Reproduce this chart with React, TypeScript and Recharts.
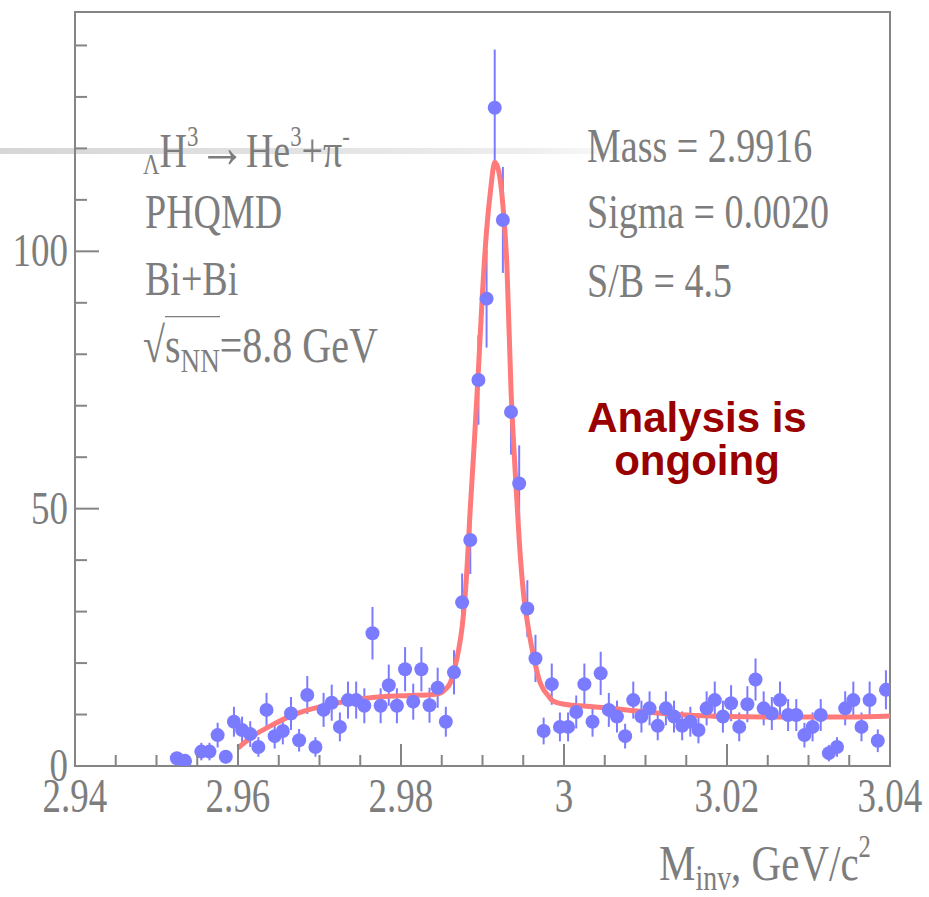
import React from "react";
import {
  ComposedChart,
  Scatter,
  Line,
  XAxis,
  YAxis,
  ErrorBar,
  ReferenceArea,
} from "recharts";

// invariant mass bins (GeV/c^2), counts and their errors
const binCenters = [
  2.9525, 2.9535, 2.9555, 2.9565, 2.9575, 2.9585, 2.9595, 2.9605, 2.9615, 2.9625,
  2.9635, 2.9645, 2.9655, 2.9665, 2.9675, 2.9685, 2.9695, 2.9705, 2.9715, 2.9725,
  2.9735, 2.9745, 2.9755, 2.9765, 2.9775, 2.9785, 2.9795, 2.9805, 2.9815, 2.9825,
  2.9835, 2.9845, 2.9855, 2.9865, 2.9875, 2.9885, 2.9895, 2.9905, 2.9915, 2.9925,
  2.9935, 2.9945, 2.9955, 2.9965, 2.9975, 2.9985, 2.9995, 3.0005, 3.0015, 3.0025,
  3.0035, 3.0045, 3.0055, 3.0065, 3.0075, 3.0085, 3.0095, 3.0105, 3.0115, 3.0125,
  3.0135, 3.0145, 3.0155, 3.0165, 3.0175, 3.0185, 3.0195, 3.0205, 3.0215, 3.0225,
  3.0235, 3.0245, 3.0255, 3.0265, 3.0275, 3.0285, 3.0295, 3.0305, 3.0315, 3.0325,
  3.0335, 3.0345, 3.0355, 3.0365, 3.0375, 3.0385, 3.0395,
];
const counts = [
  1.5, 1.0, 2.8, 2.8, 6.0, 1.8, 8.6, 7.0, 6.2, 3.7,
  10.9, 5.8, 6.8, 10.2, 5.0, 13.8, 3.7, 10.9, 12.3, 7.6,
  12.8, 12.8, 11.7, 25.8, 11.7, 15.7, 11.7, 18.8, 12.5, 18.8,
  11.8, 15.2, 8.6, 18.2, 31.8, 43.9, 75.0, 90.8, 127.9, 106.1,
  68.8, 54.9, 30.6, 20.9, 6.8, 15.9, 7.6, 7.6, 10.5, 15.9,
  8.6, 18.0, 10.9, 9.6, 5.8, 12.8, 9.6, 11.2, 7.8, 11.2,
  9.6, 7.8, 8.6, 7.0, 11.2, 12.8, 9.6, 12.2, 7.6, 12.0,
  16.8, 11.2, 10.2, 12.8, 9.9, 9.9, 6.0, 7.6, 9.9, 2.5,
  3.7, 11.2, 12.8, 7.6, 12.8, 4.9, 14.8,
];
const countErrors = [
  1.2, 1.0, 1.7, 1.7, 2.4, 1.3, 2.9, 2.6, 2.5, 1.9,
  3.3, 2.4, 2.6, 3.2, 2.2, 3.7, 1.9, 3.3, 3.5, 2.8,
  3.6, 3.6, 3.4, 5.1, 3.4, 4.0, 3.4, 4.3, 3.5, 4.3,
  3.4, 3.9, 2.9, 4.3, 5.6, 6.6, 8.7, 9.5, 11.3, 10.3,
  8.3, 7.4, 5.5, 4.6, 2.6, 4.0, 2.8, 2.8, 3.2, 4.0,
  2.9, 4.2, 3.3, 3.1, 2.4, 3.6, 3.1, 3.3, 2.8, 3.3,
  3.1, 2.8, 2.9, 2.6, 3.3, 3.6, 3.1, 3.5, 2.8, 3.5,
  4.1, 3.3, 3.2, 3.6, 3.1, 3.1, 2.4, 2.8, 3.1, 1.6,
  1.9, 3.3, 3.6, 2.8, 3.6, 2.2, 3.8,
];

// fit curve
const fitMass = [
  2.96, 2.962, 2.964, 2.966, 2.968, 2.97, 2.972, 2.975, 2.978, 2.981,
  2.984, 2.985, 2.9855, 2.986, 2.9865, 2.987, 2.9875, 2.988, 2.9885, 2.989,
  2.9895, 2.99, 2.9905, 2.991, 2.9915, 2.992, 2.9925, 2.993, 2.9935, 2.994,
  2.9945, 2.995, 2.9955, 2.996, 2.9965, 2.997, 2.9975, 2.998, 2.9985, 2.999,
  3.0, 3.002, 3.005, 3.01, 3.015, 3.02, 3.025, 3.03, 3.035, 3.04,
];
const fitValues = [
  3.5, 6.0, 7.8, 9.4, 10.6, 11.5, 12.2, 13.0, 13.5, 13.7,
  13.9, 14.3, 15.0, 16.0, 18.5, 22, 27, 36, 50, 63,
  77, 92, 104, 112, 117.3, 115.5, 109, 97, 73, 57.5,
  44, 34, 28, 23.4, 19.6, 16.5, 14.8, 13.8, 12.8, 12.4,
  12.0, 11.7, 11.3, 10.5, 9.9, 9.6, 9.5, 9.5, 9.5, 9.7,
];

const xTicks = [
  2.94, 2.945, 2.95, 2.955, 2.96, 2.965, 2.97, 2.975, 2.98, 2.985, 2.99,
  2.995, 3.0, 3.005, 3.01, 3.015, 3.02, 3.025, 3.03, 3.035, 3.04,
];
const xMajor = [2.94, 2.96, 2.98, 3.0, 3.02, 3.04];
const xMajorLabels = ["2.94", "2.96", "2.98", "3", "3.02", "3.04"];
const yTicks = [0, 10, 20, 30, 40, 50, 60, 70, 80, 90, 100, 110, 120, 130, 140];
const yMajor = [0, 50, 100];
const yMajorLabels = ["0", "50", "100"];

const AXIS = "#858585";
const TEXT = "#7d7d7d";
const MARKER = "#7b7bff";
const FIT = "#ff7a7a";
const SERIF = "'Liberation Serif', 'Times New Roman', serif";
const SY = 1.25;

const points = binCenters.map((x, i) => ({ x, y: counts[i], err: countErrors[i] }));
const fit = fitMass.map((x, i) => ({ x, y: fitValues[i] }));

function XTick(props: any) {
  const { x, y, payload } = props;
  const i = xMajor.indexOf(payload.value);
  const len = i >= 0 ? 22 : 11;
  return (
    <g>
      <line x1={x} x2={x} y1={y} y2={y - len} stroke={AXIS} strokeWidth={2} />
      {i >= 0 && (
        <text
          transform={`translate(${x},${y + 46}) scale(1,1.3)`}
          textAnchor="middle"
          fontFamily={SERIF}
          fontSize={37}
          fill={TEXT}
        >
          {xMajorLabels[i]}
        </text>
      )}
    </g>
  );
}

function YTick(props: any) {
  const { x, y, payload } = props;
  const i = yMajor.indexOf(payload.value);
  const len = i >= 0 ? 24 : 12;
  return (
    <g>
      <line x1={x} x2={x + len} y1={y} y2={y} stroke={AXIS} strokeWidth={2} />
      {i >= 0 && (
        <text
          transform={`translate(${x - 7},${y + 15}) scale(1,1.25)`}
          textAnchor="end"
          fontFamily={SERIF}
          fontSize={37}
          fill={TEXT}
        >
          {yMajorLabels[i]}
        </text>
      )}
    </g>
  );
}

function Dot(props: any) {
  const { cx, cy } = props;
  return <circle cx={cx} cy={cy} r={7} fill={MARKER} />;
}

// serif label placed by its baseline, stretched vertically like the source
function Label({
  left,
  baseline,
  size = 38,
  children,
}: {
  left: number;
  baseline: number;
  size?: number;
  children: React.ReactNode;
}) {
  const top = baseline - 0.8375 * size * SY;
  return (
    <div
      style={{
        position: "absolute",
        left,
        top,
        fontFamily: SERIF,
        fontSize: size,
        lineHeight: `${size}px`,
        color: TEXT,
        whiteSpace: "nowrap",
        transform: `scale(1,${SY})`,
        transformOrigin: "left top",
      }}
    >
      {children}
    </div>
  );
}

const sup: React.CSSProperties = { fontSize: "0.6em", position: "relative", top: "-0.75em" };
const sub: React.CSSProperties = { fontSize: "0.68em", position: "relative", top: "0.3em" };

export default function App() {
  return (
    <div
      style={{
        position: "absolute",
        left: 0,
        top: 0,
        width: 929,
        height: 897,
        background: "#fff",
        overflow: "hidden",
      }}
    >
      <div
        style={{
          position: "absolute",
          left: 0,
          top: 148,
          width: 660,
          height: 6,
          background:
            "linear-gradient(to right, #d6d6d6 0%, #e2e2e2 45%, #eeeeee 80%, rgba(255,255,255,0) 100%)",
        }}
      />
      <div style={{ position: "absolute", left: 0, top: 0 }}>
        <ComposedChart width={929} height={897} margin={{ top: 12, right: 39, bottom: 0, left: 0 }}>
          <XAxis
            type="number"
            dataKey="x"
            domain={[2.94, 3.04]}
            ticks={xTicks}
            interval={0}
            allowDataOverflow
            height={131}
            tickSize={0}
            tickMargin={0}
            tickLine={false}
            axisLine={{ stroke: AXIS, strokeWidth: 2 }}
            tick={<XTick />}
          />
          <YAxis
            type="number"
            dataKey="y"
            domain={[0, 146.5]}
            ticks={yTicks}
            interval={0}
            allowDataOverflow
            width={75}
            tickSize={0}
            tickMargin={0}
            tickLine={false}
            axisLine={{ stroke: AXIS, strokeWidth: 2 }}
            tick={<YTick />}
          />
          <ReferenceArea
            x1={2.94}
            x2={3.04}
            y1={0}
            y2={146.5}
            fill="none"
            fillOpacity={0}
            stroke={AXIS}
            strokeWidth={2}
          />
          <Scatter data={points} dataKey="y" shape={<Dot />} isAnimationActive={false}>
            <ErrorBar dataKey="err" direction="y" width={0} stroke={MARKER} strokeWidth={2} />
          </Scatter>
          <Line
            data={fit}
            dataKey="y"
            type="monotone"
            stroke={FIT}
            strokeWidth={5}
            dot={false}
            activeDot={false}
            isAnimationActive={false}
          />
        </ComposedChart>
      </div>

      <Label left={143} baseline={163} size={38}>
        <span style={{ fontSize: "0.6em", position: "relative", top: "0.25em" }}>Λ</span>H
        <span style={sup}>3</span>
        <span style={{ fontSize: "1.25em", lineHeight: "38px" }}>→</span>He
        <span style={sup}>3</span>+π<span style={sup}>-</span>
      </Label>
      <Label left={145} baseline={228}>PHQMD</Label>
      <Label left={145} baseline={295}>Bi+Bi</Label>
      <Label left={143} baseline={363} size={40}>
        √<span style={{ borderTop: `1.5px solid ${TEXT}` }}>
          s<span style={sub}>NN</span>
        </span>
        =8.8 GeV
      </Label>

      <Label left={587} baseline={162}>Mass = 2.9916</Label>
      <Label left={587} baseline={228}>Sigma = 0.0020</Label>
      <Label left={587} baseline={297}>S/B = 4.5</Label>

      <Label left={659} baseline={880} size={41}>
        M<span style={sub}>inv</span>, GeV/c<span style={sup}>2</span>
      </Label>

      <div
        style={{
          position: "absolute",
          left: 547,
          top: 396,
          width: 300,
          textAlign: "center",
          fontFamily: "'Liberation Sans', Arial, sans-serif",
          fontWeight: "bold",
          fontSize: 42,
          lineHeight: "43px",
          color: "#990000",
        }}
      >
        Analysis is
        <br />
        ongoing
      </div>
    </div>
  );
}
